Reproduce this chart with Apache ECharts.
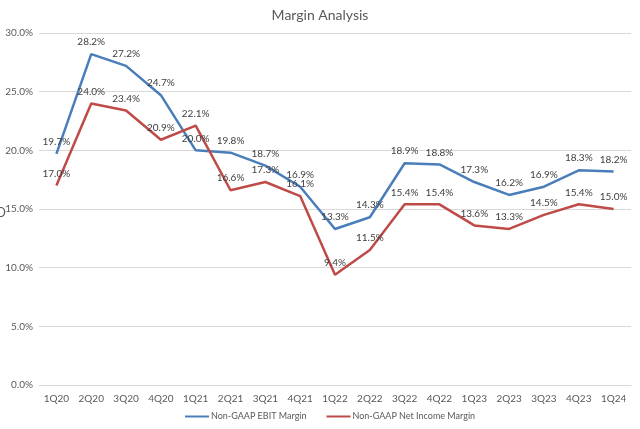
<!DOCTYPE html>
<html><head><meta charset="utf-8">
<script src="https://cdn.jsdelivr.net/npm/echarts@6/dist/echarts.min.js"></script>
<style>html,body{margin:0;padding:0;background:#fff}#c{width:640px;height:429px}</style>
</head><body><div id="c"></div>
<script>
const categories = ["1Q20","2Q20","3Q20","4Q20","1Q21","2Q21","3Q21","4Q21","1Q22","2Q22","3Q22","4Q22","1Q23","2Q23","3Q23","4Q23","1Q24"];
const ebitMargin = [19.7,28.2,27.2,24.7,20.0,19.8,18.7,16.9,13.3,14.3,18.9,18.8,17.3,16.2,16.9,18.3,18.2];
const netIncomeMargin = [17.0,24.0,23.4,20.9,22.1,16.6,17.3,16.1,9.4,11.5,15.4,15.4,13.6,13.3,14.5,15.4,15.0];
const seriesNames = ["Non-GAAP EBIT Margin","Non-GAAP Net Income Margin"];
const FONT = "Lato, 'Open Sans', sans-serif";
const chart = echarts.init(document.getElementById('c'));
const lbl = {show:true, position:'top', distance:7, color:'#404040', fontSize:10, fontFamily:FONT, formatter:p=>p.value.toFixed(1)+'%'};
chart.setOption({
  animation:false,
  title:{text:'Margin Analysis', left:'center', top:3, textStyle:{fontSize:14, fontWeight:'normal', color:'#595959', fontFamily:FONT}},
  grid:{left:39, right:9, top:33, bottom:44},
  xAxis:{type:'category', data:categories, boundaryGap:true,
    axisLine:{show:true, lineStyle:{color:'#D9D9D9'}}, axisTick:{show:false},
    axisLabel:{color:'#595959', fontSize:10, fontFamily:FONT, margin:9}},
  yAxis:{type:'value', min:0, max:30, interval:5,
    axisLabel:{color:'#595959', fontSize:10, fontFamily:FONT, margin:6, formatter:v=>v.toFixed(1)+'%'},
    splitLine:{lineStyle:{color:'#D9D9D9', width:1}}, axisLine:{show:false}, axisTick:{show:false}},
  legend:{bottom:3, left:180, itemWidth:24, itemHeight:2, itemGap:20, icon:'rect',
    textStyle:{color:'#595959', fontSize:9, fontFamily:FONT, padding:[0,0,0,-3]}},
  graphic:[
    {type:'text', left:-4, top:206, style:{text:'D', fill:'#595959', font:"13px Lato"}},
    {type:'text', right:-3, top:206, style:{text:'(', fill:'#595959', font:"13px Lato"}}
  ],
  series:[
    {name:seriesNames[0], type:'line', data:ebitMargin, symbol:'circle', symbolSize:0, showSymbol:true, lineStyle:{color:'#4A7EBB', width:2.5}, itemStyle:{color:'#4A7EBB'}, label:lbl},
    {name:seriesNames[1], type:'line', data:netIncomeMargin, symbol:'circle', symbolSize:0, showSymbol:true, lineStyle:{color:'#BE4B48', width:2.5}, itemStyle:{color:'#BE4B48'}, label:lbl}
  ]
});
</script></body></html>
